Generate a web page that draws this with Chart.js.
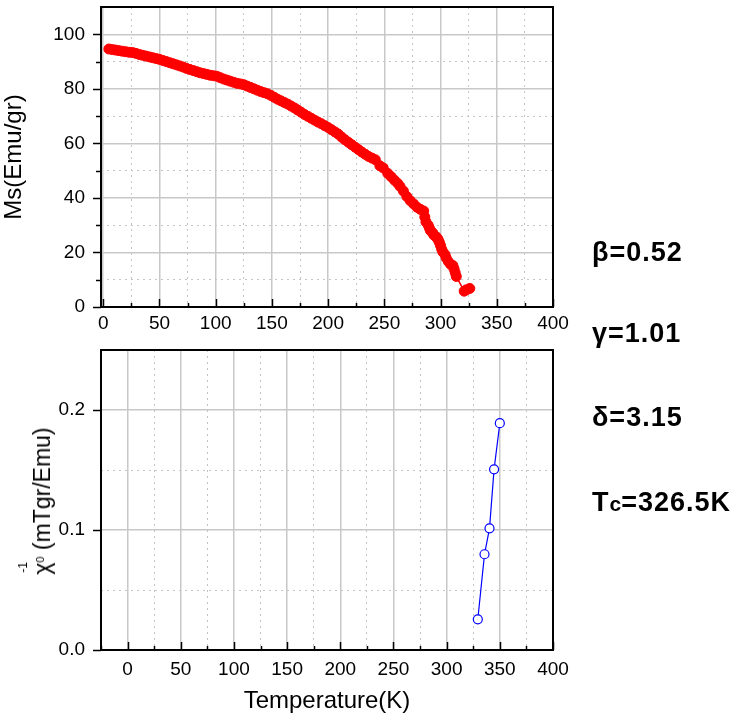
<!DOCTYPE html>
<html>
<head>
<meta charset="utf-8">
<script src="https://cdn.jsdelivr.net/npm/chart.js@4"></script>
<style>
	body { margin: 0; background: #fff; width: 739px; height: 719px; position: relative; overflow: hidden; font-family: "Liberation Sans", Arial, sans-serif; }
	canvas { position: absolute; left: 0; }
	#chart-ms { top: 0; }
	#chart-chi { top: 330px; }
	.param { position: absolute; left: 592px; font-weight: bold; font-size: 27px; letter-spacing: 1px; line-height: 30px; color: #000; white-space: nowrap; }
	.param .sub { font-size: 21px; letter-spacing: 0; }
	#chi-title { position: absolute; left: 41px; top: 501px; font-size: 23px; line-height: 24px; color: #000; white-space: nowrap; transform: translate(-50%, -50%) rotate(-90deg); }
	#chi-title .o { font-size: 11px; vertical-align: 6px; }
	#chi-title .m1 { position: absolute; left: 2px; top: -11px; font-size: 12px; line-height: 12px; }
</style>
</head>
<body>
<canvas id="chart-ms" width="739" height="330"></canvas>
<canvas id="chart-chi" width="739" height="389"></canvas>
<div id="chi-title">χ<span class="o">0</span> (mTgr/Emu)<span class="m1">-1</span></div>
<div class="param" style="top:237px">β=0.52</div>
<div class="param" style="top:318px">γ=1.01</div>
<div class="param" style="top:402px">δ=3.15</div>
<div class="param" style="top:487px">T<span class="sub">c</span>=326.5K</div>
<script>
// saturation magnetisation vs temperature
const msTemp = [5, 8, 11, 14, 17, 20, 23, 26, 29, 32, 35, 38, 41, 44, 47, 50, 53, 56, 59, 62, 65, 68, 71, 74, 77, 80,
	83, 86, 89, 92, 95, 98, 101, 104, 107, 110, 113, 116, 119, 122, 125, 128, 131, 134, 137, 140, 143, 146, 149,
	152, 155, 158, 161, 164, 167, 170, 173, 176, 179, 182, 185, 188, 191, 194, 197, 200, 203, 206, 209, 212, 215,
	218, 221, 224, 227, 230, 233, 236, 239, 242, 246, 249, 253, 256, 259, 262, 264, 267, 270, 273, 276, 279, 282,
	285, 286, 287, 289, 290, 291, 293, 294, 296, 297, 298, 299, 300, 301, 302, 304, 305, 307, 309, 311, 312, 313,
	314, 321, 323, 326];
const msValue = [94.6, 94.4, 94.2, 94.0, 93.8, 93.6, 93.4, 93.3, 93.0, 92.6, 92.3, 92.0, 91.7, 91.4, 91.1, 90.8, 90.4,
	90.0, 89.6, 89.2, 88.8, 88.4, 88.0, 87.5, 87.1, 86.7, 86.3, 85.9, 85.6, 85.3, 85.0, 84.8, 84.6, 84.1, 83.6, 83.2,
	82.8, 82.4, 82.0, 81.8, 81.5, 81.0, 80.5, 80.0, 79.5, 79.0, 78.6, 78.2, 77.6, 76.9, 76.2, 75.6, 75.0, 74.4, 73.7,
	73.0, 72.2, 71.4, 70.6, 69.9, 69.2, 68.5, 67.8, 67.2, 66.5, 65.8, 65.0, 64.2, 63.4, 62.3, 61.3, 60.4, 59.5, 58.6,
	57.7, 56.8, 56.0, 55.2, 54.6, 54.0, 51.8, 51.0, 49.0, 47.8, 46.5, 45.3, 44.2, 42.5, 40.5, 39.0, 37.8, 36.6, 35.8,
	35.2, 33.0, 31.2, 30.0, 29.0, 28.0, 27.2, 26.4, 25.8, 25.2, 24.6, 23.6, 22.5, 21.2, 20.2, 19.2, 18.0, 16.6, 15.6,
	15.2, 14.0, 12.6, 11.2, 5.8, 6.3, 6.8];

// inverse susceptibility above Tc
const chiTemp = [329.3, 335.6, 340.3, 344.6, 350.0];
const chiValue = [0.0256, 0.0798, 0.1014, 0.1506, 0.189];

// tick positions and which of them carry a label
const msXTicks = [0, 25, 50, 75, 100, 125, 150, 175, 200, 225, 250, 275, 300, 325, 350, 375, 400];
const msXLabels = [0, 50, 100, 150, 200, 250, 300, 350, 400];
const msYTicks = [0, 10, 20, 30, 40, 50, 60, 70, 80, 90, 100];
const msYLabels = [0, 20, 40, 60, 80, 100];
const chiXTicks = [-25, 0, 25, 50, 75, 100, 125, 150, 175, 200, 225, 250, 275, 300, 325, 350, 375, 400];
const chiXLabels = [0, 50, 100, 150, 200, 250, 300, 350, 400];
const chiYTicks = [0, 0.05, 0.1, 0.15, 0.2];
const chiYLabels = [0, 0.1, 0.2];

const tickFont = { family: '"Liberation Sans", Arial, sans-serif', size: 19 };
const titleFont = { family: '"Liberation Sans", Arial, sans-serif', size: 24 };

function axis(tickVals, labelVals, min, max, fmt, fit) {
	return {
		type: 'linear',
		min: min,
		max: max,
		afterBuildTicks: s => { s.ticks = tickVals.map(v => ({ value: v })); },
		afterFit: s => {
			fit(s);
			// keep the plot box where it is, labels may overhang
			s.paddingTop = 0;
			s.paddingBottom = 0;
			s.paddingLeft = 0;
			s.paddingRight = 0;
		},
		ticks: {
			autoSkip: false,
			maxRotation: 0,
			color: '#000',
			font: tickFont,
			callback: v => labelVals.includes(v) ? fmt(v) : ''
		},
		grid: {
			drawTicks: false,
			color: c => c.tick && labelVals.includes(c.tick.value) ? '#c8c8c8' : '#c4c4c4',
			lineWidth: c => c.tick && labelVals.includes(c.tick.value) ? 1.5 : 1
		},
		border: {
			display: false,
			dash: c => c.tick && !labelVals.includes(c.tick.value) ? [2, 4] : []
		},
		labelVals: labelVals
	};
}

// black frame round the plot, ticks inward on x and outward on y
const framePlugin = {
	id: 'frame',
	afterDraw(chart, args, opts) {
		const ctx = chart.ctx;
		const a = chart.chartArea;
		const xs = chart.scales.x;
		const ys = chart.scales.y;
		ctx.save();
		ctx.strokeStyle = '#000';
		ctx.lineWidth = 1.5;
		xs.ticks.forEach(t => {
			const major = xs.options.labelVals.includes(t.value);
			const px = Math.round(xs.getPixelForValue(t.value)) + 0.5;
			ctx.beginPath();
			ctx.moveTo(px, a.bottom);
			ctx.lineTo(px, a.bottom - (major ? 8 : 4));
			ctx.stroke();
		});
		ys.ticks.forEach(t => {
			const major = ys.options.labelVals.includes(t.value);
			if (!major && !opts.yMinor) return;
			const py = Math.round(ys.getPixelForValue(t.value)) + 0.5;
			ctx.beginPath();
			ctx.moveTo(a.left, py);
			ctx.lineTo(a.left - (major ? 8 : 5), py);
			ctx.stroke();
		});
		ctx.lineWidth = 2;
		ctx.strokeRect(a.left, a.top, a.right - a.left, a.bottom - a.top);
		ctx.restore();
	}
};

function init() {
	const msX = axis(msXTicks, msXLabels, -2, 400, v => '' + v, s => { s.height = 23; });
	msX.ticks.padding = 5;
	const msY = axis(msYTicks, msYLabels, 0, 110, v => '' + v, s => { s.width = 101; });
	msY.ticks.padding = 16;
	msY.title = { display: true, text: 'Ms(Emu/gr)', color: '#000', font: titleFont, padding: 0 };

	new Chart(document.getElementById('chart-ms'), {
		type: 'scatter',
		data: {
			datasets: [{
				data: msTemp.map((t, i) => ({ x: t, y: msValue[i] })),
				showLine: true,
				borderColor: '#ff0000',
				borderWidth: 1.5,
				pointRadius: 5,
				pointBackgroundColor: '#ff0000',
				pointBorderColor: '#ff0000',
				pointBorderWidth: 1
			}]
		},
		options: {
			responsive: false,
			animation: false,
			layout: { padding: { top: 7, right: 186, bottom: 0, left: 0 } },
			plugins: { legend: { display: false }, tooltip: { enabled: false }, frame: { yMinor: true } },
			scales: { x: msX, y: msY }
		},
		plugins: [framePlugin]
	});

	const chiX = axis(chiXTicks, chiXLabels, -25, 400, v => '' + v, s => { s.height = 69; });
	chiX.ticks.padding = 8;
	chiX.title = { display: true, text: 'Temperature(K)', color: '#000', font: titleFont, padding: { top: 0, bottom: 3 } };
	const chiY = axis(chiYTicks, chiYLabels, 0, 0.25, v => v.toFixed(1), s => { s.width = 101; });
	chiY.ticks.padding = 16;

	new Chart(document.getElementById('chart-chi'), {
		type: 'scatter',
		data: {
			datasets: [{
				data: chiTemp.map((t, i) => ({ x: t, y: chiValue[i] })),
				showLine: true,
				borderColor: '#0000ff',
				borderWidth: 1.2,
				pointRadius: 4.5,
				pointBackgroundColor: '#ffffff',
				pointBorderColor: '#0000ff',
				pointBorderWidth: 1.2
			}]
		},
		options: {
			responsive: false,
			animation: false,
			layout: { padding: { top: 20, right: 186, bottom: 0, left: 0 } },
			plugins: { legend: { display: false }, tooltip: { enabled: false }, frame: { yMinor: false } },
			scales: { x: chiX, y: chiY }
		},
		plugins: [framePlugin]
	});
}

init();
</script>
</body>
</html>
